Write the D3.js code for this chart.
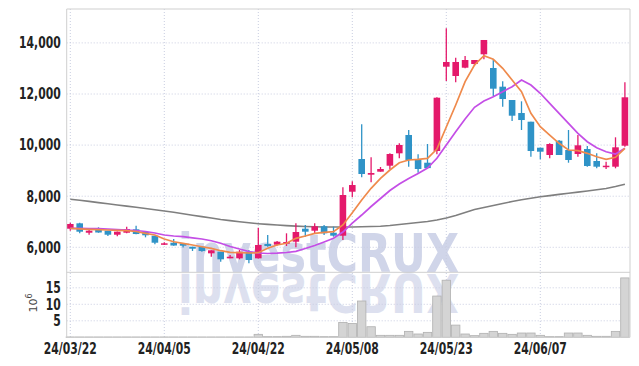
<!DOCTYPE html>
<html><head><meta charset="utf-8">
<script src="https://cdn.jsdelivr.net/npm/d3@7"></script>
<style>
html,body{margin:0;padding:0;background:#fff;}
svg{display:block;}
.tick text{font-family:"DejaVu Sans Condensed","DejaVu Sans",sans-serif;font-weight:bold;font-size:15px;fill:#222;}
</style></head>
<body>
<svg id="chart" width="639" height="366" xmlns:xlink="http://www.w3.org/1999/xlink"></svg>
<script>
const dates = ["24/03/22","24/03/25","24/03/26","24/03/27","24/03/28","24/03/29","24/04/01","24/04/02","24/04/03","24/04/04",
"24/04/05","24/04/08","24/04/09","24/04/11","24/04/12","24/04/15","24/04/16","24/04/17","24/04/18","24/04/19",
"24/04/22","24/04/23","24/04/24","24/04/25","24/04/26","24/04/29","24/04/30","24/05/02","24/05/03","24/05/07",
"24/05/08","24/05/09","24/05/10","24/05/13","24/05/14","24/05/16","24/05/17","24/05/20","24/05/21","24/05/22",
"24/05/23","24/05/24","24/05/27","24/05/28","24/05/29","24/05/30","24/05/31","24/06/03","24/06/04","24/06/05",
"24/06/07","24/06/10","24/06/11","24/06/12","24/06/13","24/06/14","24/06/17","24/06/18","24/06/19","24/06/20"];
const tickLabels = ["24/03/22","24/04/05","24/04/22","24/05/08","24/05/23","24/06/07"];
const open  = [6728,6939,6571,6744,6650,6493,6571,6705,6599,6454, 6117,6180,6157,6023,6023,5765,5828,5569,5569,5828,
               5569,6129,6102,6141,6219,6728,6650,6822,6570,6454, 8176,9456,8842,8960,9194,9679,10396,9444,9311,9769,
               13069,12705,13030,13174,13554,13018,12286,11765,11256,10916, 9898,9613,10172,9808,9652,9847,9378,9155,9155,9977];
const high  = [6963,6963,6705,6783,6650,6620,6806,6845,6599,6454, 6196,6325,6157,6023,6023,5883,5828,5700,5894,5894,
               6767,6481,6250,6548,6939,6873,6940,6873,6806,8350, 8583,10814,9520,9143,9680,10070,10590,9640,10043,11870,
               14572,13421,13487,13331,14114,13358,12497,11765,11714,10916, 9898,10070,10200,10591,10396,9965,9679,9350,10305,12458];
const low   = [6650,6548,6493,6570,6440,6430,6548,6509,6391,6117, 6090,6063,5990,5855,5830,5632,5436,5569,5530,5374,
               5560,6023,6070,6051,6000,6415,6550,6480,6415,6290, 7957,8740,8544,8960,9065,9483,9155,8920,9065,9640,
               12509,12458,13006,13100,13360,11922,11503,10943,10591,9546, 9444,9483,9613,9311,9546,9155,9092,9065,9092,9937];
const close = [6912,6611,6650,6580,6493,6611,6716,6520,6470,6180, 6157,6070,6063,5945,5855,5883,5530,5632,5828,5503,
               6090,6051,6219,6207,6599,6611,6822,6548,6455,8047, 8438,8869,8908,9065,9652,10005,9417,9065,9100,11855,
               13253,13253,13331,13331,14114,12208,11804,11151,10982,9769, 9742,10043,9613,9417,9992,9182,9155,9194,9914,11871];
const ma5   = [6744,6724,6705,6689,6677,6665,6650,6618,6548,6481, 6325,6219,6157,6090,6023,5961,5867,5804,5789,5777,
               5789,5961,6090,6157,6352,6442,6548,6587,6611,6873, 7354,7851,8309,8701,9026,9311,9417,9444,9483,9848,
               10709,11570,12482,13135,13499,13358,13006,12548,12090,11245, 10720,10395,10071,9808,9781,9679,9546,9444,9523,9875];
const ma20  = [6744,6744,6736,6728,6716,6697,6677,6658,6618,6560, 6481,6442,6415,6372,6325,6258,6157,6031,5933,5836,
               5777,5757,5769,5796,5843,5953,6070,6207,6352,6599, 6951,7264,7597,7910,8223,8478,8693,8889,9104,9483,
               10004,10525,11022,11480,11726,11895,12090,12286,12548,12352, 12028,11636,11245,10853,10462,10133,9898,9742,9652,9875];
const ma120 = [7879,7840,7797,7750,7703,7656,7613,7566,7519,7468, 7421,7370,7311,7256,7202,7147,7088,7045,6998,6959,
               6924,6896,6873,6849,6830,6814,6802,6795,6795,6795, 6795,6802,6814,6826,6853,6892,6932,6971,7010,7069,
               7147,7245,7362,7479,7558,7636,7714,7793,7859,7922, 7977,8024,8071,8117,8161,8204,8251,8305,8380,8466];
const volume = [0.1,0.1,0.1,0.1,0.1,0.1,0.1,0.1,0.1,0.1, 0.1,0.1,0.1,0.1,0.1,0.1,0.1,0.1,0.1,0.1,
                0.9,0.2,0.2,0.3,0.6,0.3,0.3,0.2,0.2,4.5, 4.2,11,3.2,0.6,0.6,0.6,1.8,1.0,1.5,12.5,
                17.3,3.7,1.0,0.5,1.2,1.8,1.2,0.9,1.3,1.3, 0.6,0.2,0.2,1.3,1.3,0.6,0.3,0.3,1.8,18];
const priceTicks = [6000,8000,10000,12000,14000];
const volTicks = [5,10,15];

const svg = d3.select("#chart");
const L = 66.7, R = 630, T = 9, MID = 272.3, B = 337.3;
const x = d3.scaleBand().domain(dates).range([65.6, 629.6]).padding(0);
const xc = d => x(d) + x.bandwidth()/2;
const y = d3.scaleLinear().domain([5022, 15327]).range([MID, T]);
const yv = d3.scaleLinear().domain([0, 19.7]).range([B, MID]);

const UP = "#e4196b", DOWN = "#2f93c7";
const gridColor = "#c9cde0";
const defs = svg.append("defs");
defs.append("clipPath").attr("id","clipVol").append("rect").attr("x",0).attr("y",MID+1).attr("width",639).attr("height",B-MID-1);

// watermark + reflection (reflection reuses the same text element)
const wm = svg.append("g");
wm.append("text").attr("id","wmText").attr("x", 178).attr("y", 271.5).attr("textLength", 281).attr("lengthAdjust","spacingAndGlyphs")
  .style("font-family","DejaVu Sans").style("font-weight","bold").style("font-size","54px").attr("fill","#d0d5e9").text("investCRUX");
wm.append("g").attr("clip-path","url(#clipVol)")
  .append("use").attr("href","#wmText").attr("xlink:href","#wmText")
  .attr("transform","translate(0,545) scale(1,-1)").attr("opacity",0.72);

// grid
const grid = svg.append("g").attr("stroke", gridColor).attr("stroke-dasharray","1,2").attr("stroke-width",1);
tickLabels.forEach(t => grid.append("line").attr("x1", xc(t)).attr("x2", xc(t)).attr("y1", T).attr("y2", B));
priceTicks.forEach(v => grid.append("line").attr("x1", L).attr("x2", R).attr("y1", y(v)).attr("y2", y(v)));
volTicks.forEach(v => grid.append("line").attr("x1", L).attr("x2", R).attr("y1", yv(v)).attr("y2", yv(v)));

// volume bars
svg.append("g").selectAll("rect").data(dates).join("rect")
  .attr("x", d => x(d)+0.5).attr("width", x.bandwidth()-1)
  .attr("y", (d,i) => yv(volume[i])).attr("height", (d,i) => yv(0)-yv(volume[i]))
  .attr("fill","#d4d4d4").attr("stroke","#b0b0b0").attr("stroke-width",0.8);

// moving averages
const lineGen = arr => d3.line().x((d,i)=>xc(dates[i])).y(d=>y(d))(arr);
svg.append("path").attr("d", lineGen(ma120)).attr("fill","none").attr("stroke","#7f7f7f").attr("stroke-width",1.6);

// candles
const cg = svg.append("g");
dates.forEach((d,i) => {
  const up = close[i] >= open[i];
  const col = up ? UP : DOWN;
  cg.append("line").attr("x1", xc(d)).attr("x2", xc(d)).attr("y1", y(high[i])).attr("y2", y(low[i]))
    .attr("stroke", col).attr("stroke-width", 1.3);
  const top = y(Math.max(open[i], close[i])), bot = y(Math.min(open[i], close[i]));
  cg.append("rect").attr("x", xc(d)-3.3).attr("width", 6.6).attr("y", top).attr("height", Math.max(1.5, bot-top)).attr("fill", col);
});
svg.append("path").attr("d", lineGen(ma20)).attr("fill","none").attr("stroke","#c44ee6").attr("stroke-width",1.7);
svg.append("path").attr("d", lineGen(ma5)).attr("fill","none").attr("stroke","#ef8a4c").attr("stroke-width",1.7);

// frame
const fr = svg.append("g").attr("stroke","#cfcfcf").attr("stroke-width",1).attr("fill","none");
fr.append("line").attr("x1",L).attr("x2",L).attr("y1",T).attr("y2",B);
fr.append("line").attr("x1",R).attr("x2",R).attr("y1",T).attr("y2",B);
fr.append("line").attr("x1",L).attr("x2",R).attr("y1",T).attr("y2",T);
fr.append("line").attr("x1",L).attr("x2",R).attr("y1",MID).attr("y2",MID);
fr.append("line").attr("x1",L).attr("x2",R).attr("y1",B).attr("y2",B);

// axes
const yAxis = d3.axisLeft(y).tickValues(priceTicks).tickSize(0).tickPadding(6).tickFormat(d3.format(","));
svg.append("g").attr("transform",`translate(${L},0)`).call(yAxis).call(g=>g.select(".domain").remove());
const vAxis = d3.axisLeft(yv).tickValues(volTicks).tickSize(0).tickPadding(6);
svg.append("g").attr("transform",`translate(${L},0)`).call(vAxis).call(g=>g.select(".domain").remove());
const xAxis = d3.axisBottom(x).tickValues(tickLabels).tickSize(0).tickPadding(6);
svg.append("g").attr("transform",`translate(0,${B})`).call(xAxis).call(g=>g.select(".domain").remove())
  .selectAll("text").attr("dy","0.71em");

// condense tick labels to match narrow reference font
svg.selectAll(".tick text").each(function(){
  const w = this.getComputedTextLength();
  d3.select(this).attr("textLength", w*0.8).attr("lengthAdjust","spacingAndGlyphs");
});

const unit = svg.append("text").attr("transform","translate(37,303) rotate(-90)").attr("text-anchor","middle")
  .style("font-family","DejaVu Sans").style("font-size","11px").attr("fill","#444");
unit.append("tspan").text("10");
unit.append("tspan").attr("dy","-5").style("font-size","8px").text("6");
</script>
</body></html>
